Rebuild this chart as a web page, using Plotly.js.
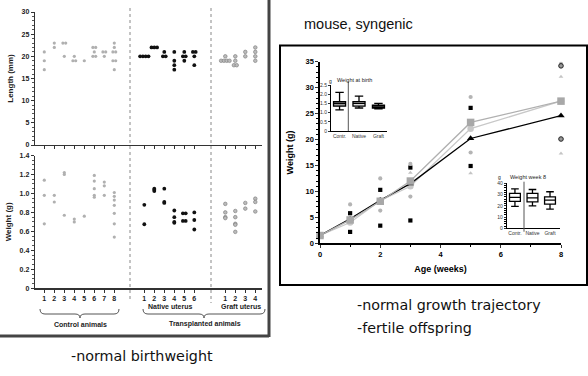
<!DOCTYPE html>
<html><head><meta charset="utf-8">
<script src="https://cdn.plot.ly/plotly-3.0.1.min.js"></script>
<style>html,body{margin:0;padding:0;background:#fff}#g{width:588px;height:376px}</style>
</head><body><div id="g"></div>
<script>
// ---------- data: left panel (birth length / weight per litter) ----------
const ctrlLabels = ['1','2','3','4','5','6','7','8'];
const nativeLabels = ['1','2','3','4','5','6'];
const graftLabels = ['1','2','3','4'];
const ctrlLength = [[21,19,17],[23,22],[23,23,20],[20,19,19],[19],[22,22,21,20,20],[21,21,20],[23,22,21,21,19,19,17]];
const nativeLength = [[20,20,20,20],[22,22,22],[21,20,20],[21,19,18,17],[21,20,20,19],[21,21,20,18]];
const graftLength = [[20,19,19,19,19],[20,19,18,18],[21,20],[22,21,20,19]];
const ctrlWeight = [[1.14,0.98,0.68],[0.98,0.91],[1.22,1.2,0.77],[0.73,0.70],[0.76],[1.19,1.13,1.05,0.98,0.96],[1.12,1.08,0.98],[1.01,0.97,0.93,0.875,0.79,0.68,0.54]];
const nativeWeight = [[0.88,0.675],[1.025,1.04,1.05],[1.05,0.91,0.90],[0.82,0.75,0.70,0.69],[0.79,0.79,0.71,0.71],[0.80,0.72,0.62]];
const graftWeight = [[0.89,0.80,0.75,0.74],[0.815,0.75,0.68,0.67,0.595],[0.90,0.84],[0.945,0.91,0.81]];
const lengthTicks = [0,5,10,15,20,25,30];
const weightTicks = [0,0.2,0.4,0.6,0.8,1.0,1.2,1.4];
const weightTickText = ['0','0.2','0.4','0.6','0.8','1.0','1.2','1.4'];

// ---------- data: right panel (growth) ----------
const weeks = [0,1,2,3,5,8];
const meanGraySq = [1.5,4.5,8.1,12.0,23.3,27.4];
const meanLightCirc = [1.5,4.0,8.2,11.0,22.1,27.4];
const meanBlackTri = [1.5,4.7,8.3,11.5,20.2,24.6];
const blackSqWeeks = [1,1,2,2,3,3,5,5];
const blackSqVals = [5.8,2.2,10.3,3.4,14.6,4.4,26.1,14.9];
const grayCircWeeks = [1,2,2,3,3,5,5,8];
const grayCircVals = [7.5,12.5,6.3,15.3,9.0,28.2,17.5,34.6];
const lightTriWeeks = [3,5,8,8];
const lightTriVals = [13.6,13.5,32.1,17.3];
const ringWeeks = [8,8];
const ringVals = [34.2,20.1];
const growthXTicks = [0,2,4,6,8];
const growthYTicks = [0,5,10,15,20,25,30,35];

// ---------- data: insets ----------
const insetCats = ['Contr.','Native','Graft'];
const birthQ1 = [1.35,1.35,1.25], birthMed=[1.5,1.5,1.3], birthQ3=[1.6,1.6,1.4], birthLo=[1.15,1.25,1.2], birthHi=[2.1,1.9,1.5];
const birthTicks = [0,0.5,1.0,1.5,2.0,2.5];
const birthTickText = ['0','0.5','1.0','1.5','2.0','2.5'];
const w8Q1 = [24,23.5,21.5], w8Med=[27.5,27,25], w8Q3=[31,31,28], w8Lo=[19.5,20,17], w8Hi=[35,34.5,32.5];
const w8Ticks = [0,10,20,30,40];

// ---------- helpers ----------
const W=588,H=376;
const dx=(a,b)=>[a/W,b/W];
const dy=(t,b)=>[1-b/H,1-t/H];
const px=x=>x/W, py=y=>1-y/H;
const FONT='Liberation Sans, Arial, sans-serif';

const ctrlOff=0, nativeOff=10, graftOff=18.1;
function spread(groups, off){
  const xs=[],ys=[];
  groups.forEach((vals,i)=>{
    const seen={};
    vals.forEach(v=>{seen[v]=(seen[v]||0)+1;});
    const idx={};
    vals.forEach(v=>{
      const n=seen[v]; idx[v]=(idx[v]||0);
      xs.push(off+i+(idx[v]-(n-1)/2)*0.28); ys.push(v); idx[v]++;
    });
  });
  return {xs,ys};
}
const tickPos = ctrlLabels.map((_,i)=>ctrlOff+i).concat(nativeLabels.map((_,i)=>nativeOff+i)).concat(graftLabels.map((_,i)=>graftOff+i));
const tickTxt = ctrlLabels.concat(nativeLabels).concat(graftLabels);

const traces=[];
function leftTraces(groupsC,groupsN,groupsG,xa,ya){
  const c=spread(groupsC,ctrlOff), n=spread(groupsN,nativeOff), g=spread(groupsG,graftOff);
  traces.push({x:c.xs,y:c.ys,xaxis:xa,yaxis:ya,type:'scatter',mode:'markers',marker:{symbol:'circle',size:3.2,color:'#b0b0b0'},cliponaxis:false,hoverinfo:'skip'});
  traces.push({x:n.xs,y:n.ys,xaxis:xa,yaxis:ya,type:'scatter',mode:'markers',marker:{symbol:'circle',size:3.8,color:'#111'},cliponaxis:false,hoverinfo:'skip'});
  traces.push({x:g.xs,y:g.ys,xaxis:xa,yaxis:ya,type:'scatter',mode:'markers',marker:{symbol:'circle',size:3.6,color:'#bbbbbb',line:{color:'#777',width:0.6}},cliponaxis:false,hoverinfo:'skip'});
}
leftTraces(ctrlLength,nativeLength,graftLength,'x','y');
leftTraces(ctrlWeight,nativeWeight,graftWeight,'x2','y2');

// growth chart
traces.push({x:blackSqWeeks,y:blackSqVals,xaxis:'x3',yaxis:'y3',type:'scatter',mode:'markers',marker:{symbol:'square',size:4.2,color:'#000'},cliponaxis:false});
traces.push({x:grayCircWeeks,y:grayCircVals,xaxis:'x3',yaxis:'y3',type:'scatter',mode:'markers',marker:{symbol:'circle',size:4.2,color:'#b4b4b4'},cliponaxis:false});
traces.push({x:lightTriWeeks,y:lightTriVals,xaxis:'x3',yaxis:'y3',type:'scatter',mode:'markers',marker:{symbol:'triangle-up',size:4.2,color:'#c4c4c4'},cliponaxis:false});
traces.push({x:ringWeeks,y:ringVals,xaxis:'x3',yaxis:'y3',type:'scatter',mode:'markers',marker:{symbol:'circle',size:4.6,color:'#999',line:{color:'#222',width:1}},cliponaxis:false});
traces.push({x:weeks,y:meanLightCirc,xaxis:'x3',yaxis:'y3',type:'scatter',mode:'lines+markers',line:{color:'#c8c8c8',width:1.3},marker:{symbol:'circle',size:6.5,color:'#c8c8c8'},cliponaxis:false});
traces.push({x:weeks,y:meanBlackTri,xaxis:'x3',yaxis:'y3',type:'scatter',mode:'lines+markers',line:{color:'#000',width:1.3},marker:{symbol:'triangle-up',size:6.5,color:'#000'},cliponaxis:false});
traces.push({x:weeks,y:meanGraySq,xaxis:'x3',yaxis:'y3',type:'scatter',mode:'lines+markers',line:{color:'#b0b0b0',width:1.3},marker:{symbol:'square',size:7.5,color:'#a8a8a8'},cliponaxis:false});

// insets
const birthFill=['#9a9a9a','#dcdcdc','#b0b0b0'];
insetCats.forEach((c,i)=>{
  traces.push({type:'box',xaxis:'x4',yaxis:'y4',x:[i],q1:[birthQ1[i]],median:[birthMed[i]],q3:[birthQ3[i]],lowerfence:[birthLo[i]],upperfence:[birthHi[i]],
    width:0.62,whiskerwidth:0.7,fillcolor:birthFill[i],line:{color:'#000',width:1.3},boxpoints:false,hoverinfo:'skip'});
  traces.push({type:'box',xaxis:'x5',yaxis:'y5',x:[i],q1:[w8Q1[i]],median:[w8Med[i]],q3:[w8Q3[i]],lowerfence:[w8Lo[i]],upperfence:[w8Hi[i]],
    width:0.62,whiskerwidth:0.7,fillcolor:'#fff',line:{color:'#000',width:1.3},boxpoints:false,hoverinfo:'skip'});
});

const tickF={family:FONT,size:7,color:'#222',weight:'bold'};
const axBase={showgrid:false,zeroline:false,showline:true,linecolor:'#333',linewidth:1.3,ticks:'outside',tickcolor:'#333',ticklen:3,tickwidth:1,tickfont:tickF,fixedrange:true};

const leftRange=[-0.93,21.77];
const layout={
  width:W,height:H,margin:{l:0,r:0,t:0,b:0},paper_bgcolor:'#fff',plot_bgcolor:'rgba(0,0,0,0)',showlegend:false,
  xaxis:Object.assign({},axBase,{domain:dx(35,262),range:leftRange,anchor:'y',tickvals:tickPos,showticklabels:false}),
  yaxis:Object.assign({},axBase,{domain:dy(12,145),range:[0,30],anchor:'x',tickvals:lengthTicks,minor:{dtick:1,ticklen:2,tickcolor:'#555',ticks:'outside'},
    title:{text:'Length (mm)',font:{family:FONT,size:8,weight:'bold',color:'#222'},standoff:6}}),
  xaxis2:Object.assign({},axBase,{domain:dx(35,262),range:leftRange,anchor:'y2',tickvals:tickPos,ticktext:tickTxt}),
  yaxis2:Object.assign({},axBase,{domain:dy(155.5,288.3),range:[0,1.4],anchor:'x2',tickvals:weightTicks,ticktext:weightTickText,minor:{dtick:0.05,ticklen:2,tickcolor:'#555',ticks:'outside'},
    title:{text:'Weight (g)',font:{family:FONT,size:8,weight:'bold',color:'#222'},standoff:6}}),
  xaxis3:Object.assign({},axBase,{domain:dx(320,561),range:[0,8],anchor:'y3',tickvals:growthXTicks,linecolor:'#000',linewidth:1.6,tickfont:{family:FONT,size:7.5,weight:'bold',color:'#000'},
    minor:{dtick:1,ticklen:2,ticks:'outside',tickcolor:'#000'},
    title:{text:'Age (weeks)',font:{family:FONT,size:9,weight:'bold',color:'#000'},standoff:8}}),
  yaxis3:Object.assign({},axBase,{domain:dy(61.7,243.3),range:[0,35],anchor:'x3',tickvals:growthYTicks,linecolor:'#000',linewidth:1.6,tickfont:{family:FONT,size:7.5,weight:'bold',color:'#000'},
    minor:{dtick:1,ticklen:2,ticks:'outside',tickcolor:'#000'},
    title:{text:'Weight (g)',font:{family:FONT,size:9,weight:'bold',color:'#000'},standoff:10}}),
  xaxis4:Object.assign({},axBase,{domain:dx(331,387),range:[-0.44,2.44],anchor:'y4',tickvals:[0,1,2],ticktext:insetCats,ticks:'',linecolor:'#000',linewidth:1,tickfont:{family:FONT,size:5,color:'#333'}}),
  yaxis4:Object.assign({},axBase,{domain:dy(85,131),range:[0,2.5],anchor:'x4',tickvals:birthTicks,ticktext:birthTickText,ticklen:2,linecolor:'#000',linewidth:1,tickfont:{family:FONT,size:5,color:'#333'}}),
  xaxis5:Object.assign({},axBase,{domain:dx(506.7,560),range:[-0.47,2.57],anchor:'y5',tickvals:[0,1,2],ticktext:insetCats,ticks:'',linecolor:'#000',linewidth:1,tickfont:{family:FONT,size:5,color:'#333'}}),
  yaxis5:Object.assign({},axBase,{domain:dy(183.3,228.3),range:[0,40],anchor:'x5',tickvals:w8Ticks,ticklen:2,linecolor:'#000',linewidth:1,tickfont:{family:FONT,size:5,color:'#333'},
    minor:{dtick:2,ticklen:1.5,ticks:'outside',tickcolor:'#000'}}),
  shapes:[],annotations:[]
};

const S=layout.shapes, A=layout.annotations;
function line(x0,y0,x1,y1,color,width,dash){S.push({type:'line',xref:'paper',yref:'paper',x0:px(x0),y0:py(y0),x1:px(x1),y1:py(y1),line:{color,width,dash:dash||'solid'},layer:'above'});}
// left panel frame
line(269,0,269,337,'#444',3);
line(0,336,269,336,'#444',3);
// dashed separators
line(130,8,130,300,'#888',1,'dot');
line(211,8,211,303,'#888',1,'dot');
// braces
function brace(x1,x2,cx){
  const y0=309,y1=314,y2=318;
  const P=(x,y)=>px(x).toFixed(5)+','+py(y).toFixed(5);
  const d='M'+P(x1,y0)+' Q'+P(x1,y1)+' '+P(x1+5,y1)+' L'+P(cx-5,y1)+' Q'+P(cx,y1)+' '+P(cx,y2)+' Q'+P(cx,y1)+' '+P(cx+5,y1)+' L'+P(x2-5,y1)+' Q'+P(x2,y1)+' '+P(x2,y0);
  S.push({type:'path',xref:'paper',yref:'paper',path:d,line:{color:'#555',width:1}});
}
brace(40,119,80);
brace(143,265,204);
// right frame
S.push({type:'rect',xref:'paper',yref:'paper',x0:px(280),y0:py(285),x1:px(587),y1:py(45.5),line:{color:'#000',width:2}});
// inset dividers
line(348.3,81.7,348.3,131,'#555',1);
line(524,181.7,524,231.7,'#555',1);

function txt(x,y,t,size,opts){A.push(Object.assign({xref:'paper',yref:'paper',x:px(x),y:py(y),text:t,showarrow:false,xanchor:'center',yanchor:'middle',
  font:{family:FONT,size,color:'#222'}},opts||{}));}
const bold=(s)=>({font:{family:FONT,size:s,color:'#222',weight:'bold'}});
txt(170,306,'Native uterus',7,bold(7));
txt(241,306,'Graft uterus',7,bold(7));
txt(80,324,'Control animals',7,bold(7));
txt(205,324,'Transplanted animals',7,bold(7));
txt(355,80,'Weight at birth',5.5);
txt(528,177,'Weight week 8',5.5);
txt(330,81,'g',5);
txt(499,177,'g',5);
txt(302,24,'mouse, syngenic',14.5,{xanchor:'left',font:{family:FONT,size:14.5,color:'#111'}});
txt(355,305,'-normal growth trajectory',14.3,{xanchor:'left',font:{family:'DejaVu Sans',size:14.3,color:'#111'}});
txt(355,328,'-fertile offspring',14.3,{xanchor:'left',font:{family:'DejaVu Sans',size:14.3,color:'#111'}});
txt(142,356,'-normal birthweight',14.3,{font:{family:'DejaVu Sans',size:14.3,color:'#111'}});

Plotly.newPlot('g',traces,layout,{staticPlot:true,displayModeBar:false});
</script></body></html>
